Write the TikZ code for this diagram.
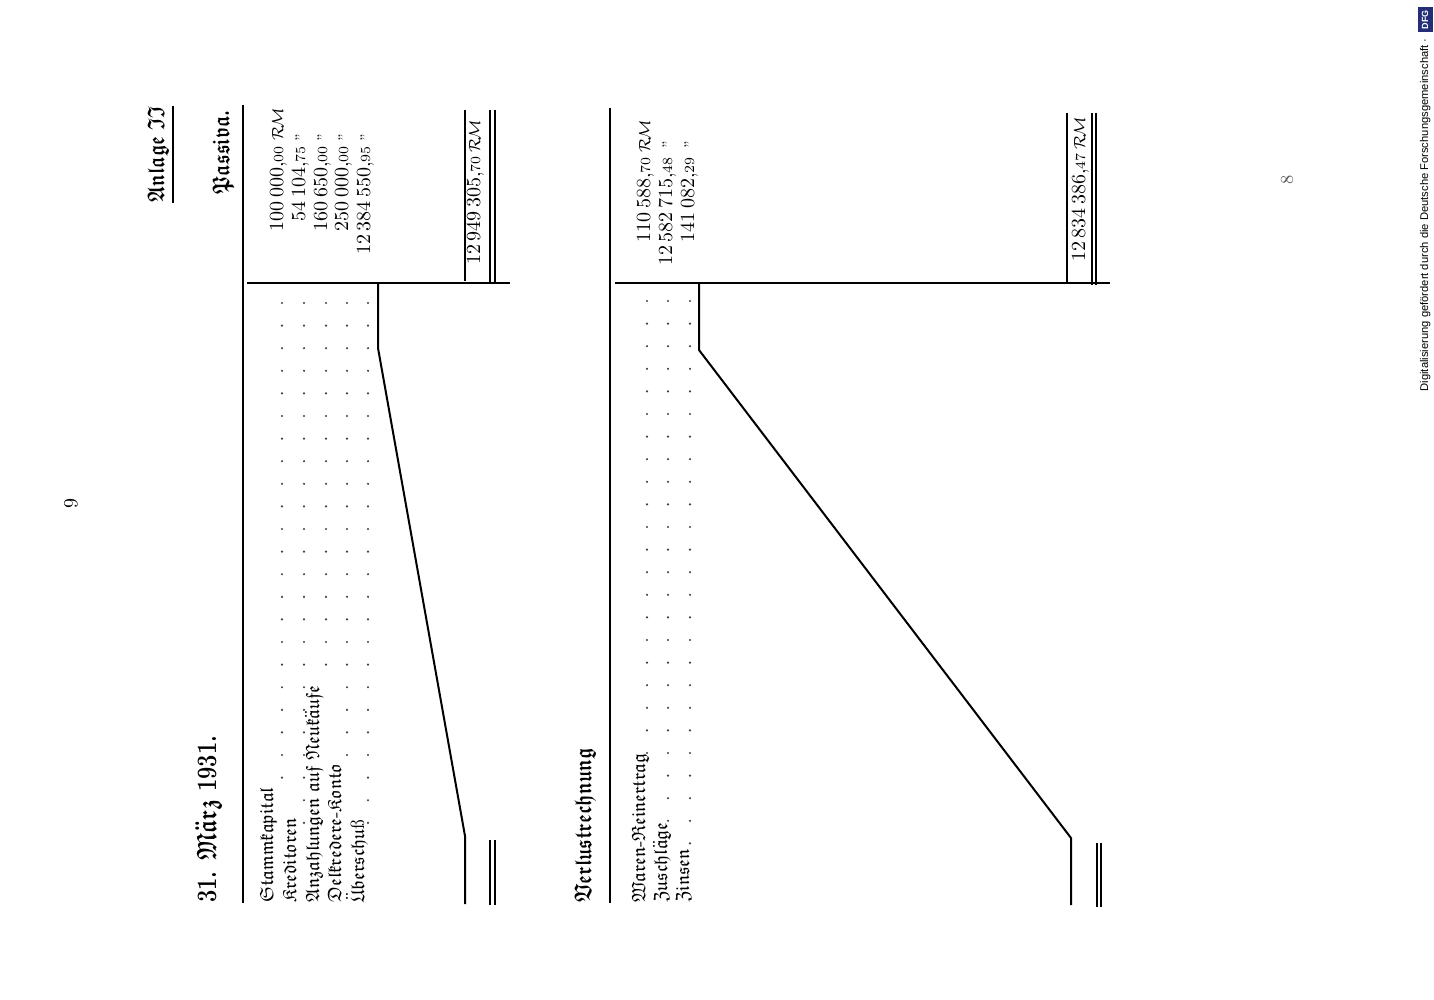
\documentclass[tikz,border=0pt]{standalone}
\usepackage{amsmath, amssymb}
\usepackage{fontspec}
\usetikzlibrary{positioning}
\newfontfamily\dfgfont{Liberation Sans}
\definecolor{dfg-blue}{RGB}{35,45,120}
\tikzstyle{rule}=[line width=1pt]
\tikzstyle{dbl}=[line width=.9pt]
\tikzstyle{posten}=[rotate=90, anchor=base west, inner sep=0pt, font=\fontsize{9.6}{12}\selectfont]
\tikzstyle{betrag}=[rotate=90, anchor=base east, inner sep=0pt, font=\fontsize{10}{12}\selectfont]
\tikzstyle{einheit}=[rotate=90, anchor=base west, inner sep=0pt, font=\fontsize{8}{9}\selectfont]
\tikzstyle{titel}=[rotate=90, inner sep=0pt, font=\fontsize{12}{14}\selectfont\boldmath]
\tikzstyle{punkt}=[fill=black!75]
\newcommand{\fk}[1]{\mathfrak{#1}}
\newcommand{\uml}[1]{\ddot{\mathfrak{#1}}}
\newcommand{\eng}[1]{\scalebox{.78}[1]{#1}}
\newcommand{\pf}[1]{,{\scriptsize #1}}
\newcommand{\RM}{$\mathcal{R}\!\mathcal{M}$}
\newcommand{\dito}{{\scriptsize''}}

\begin{document}
\begin{tikzpicture}[x=.5pt, y=-.5pt]
	\useasboundingbox (0,0) rectangle (1434,1000);
	\node[rotate=90, font=\fontsize{10}{12}\selectfont] (seite) at (71,503) {9};
	\node[rotate=90, font=\fontsize{9}{11}\selectfont, text=black!65] (rueck) at (1287,180) {8};
	% Bilanz
	\node[titel, anchor=base east] (anlage) at (164,106) {\eng{$\fk{Anlage}\ \fk{II}$}};
	\draw[rule] ([xshift=2pt]anlage.south west) -- ([xshift=2pt]anlage.south east);
	\node[titel, anchor=base east] (passiva) at (229,110) {\eng{$\fk{Passiva.}$}};
	\node[rotate=90, anchor=base west, inner sep=0pt, font=\fontsize{14}{16}\selectfont\bfseries\boldmath] (datum) at (216,903) {\eng{31. $\fk{M}\uml{a}\fk{rz}$ 1931.}};
	\draw[rule] (243,105) -- (243,903);
	\node[posten] (p1) at (273,903) {$\fk{Stammkapital}$};
	\node[posten] (p2) at (296,903) {$\fk{Kreditoren}$};
	\node[posten] (p3) at (319,903) {$\fk{Anzahlungen}\ \fk{auf}\ \fk{Neuk}\uml{a}\fk{ufe}$};
	\node[posten] (p4) at (341,903) {$\fk{Delkredere}\mbox{-}\fk{Konto}$};
	\node[posten] (p5) at (364,903) {$\uml{U}\fk{berschu}$\ss};
	\foreach \px/\kmax in {282/21, 304/23, 326/16, 347/20, 368/23}
		\foreach \k in {0,...,\kmax}
			\fill[punkt] (\px,303+22.6*\k) circle (.6pt);
	\foreach \bx/\betr/\n in {283/100\,000\pf{00}/1, 305/54\,104\pf{75}/2, 327/160\,650\pf{00}/3, 348/250\,000\pf{00}/4, 370/12\,384\,550\pf{95}/5}
		\node[betrag] (a\n) at (\bx,146) {\betr};
	\node[einheit] (e1) at ([yshift=2.5pt]a1.base east) {\RM};
	\foreach \n in {2,...,5}
		\node[einheit] (e\n) at ([yshift=2pt]a\n.base east) {\dito};
	\draw[rule] (247,283) -- (510,283);
	\coordinate (nase-o) at (378,283);
	\coordinate (knick-o) at (378,348);
	\coordinate (fuss-o) at (465,836);
	\coordinate (ende-o) at (465,904);
	\draw[rule] (nase-o) -- (knick-o) -- (fuss-o) -- (ende-o);
	\draw[rule] (465,110) -- (465,281);
	\draw[dbl] (490,110) -- (490,283) (495,110) -- (495,283);
	\draw[dbl] (490,840) -- (490,905) (495,840) -- (495,905);
	\node[betrag] (summe-o) at (480,156) {12\,949\,305\pf{70}};
	\node[einheit] (es-o) at ([yshift=1.5pt]summe-o.base east) {\RM};
	% Verlustrechnung
	\node[titel, anchor=base west] (verlust) at (591,903) {\eng{$\fk{Verlustrechnung}$}};
	\draw[rule] (610,108) -- (610,903);
	\node[posten] (q1) at (645,903) {$\fk{Waren}\mbox{-}\fk{Reinertrag}$};
	\node[posten] (q2) at (667,903) {$\fk{Zuschl}\uml{a}\fk{ge}$};
	\node[posten] (q3) at (689,903) {$\fk{Zinsen}$};
	\foreach \px/\kmax in {647/20, 668/23, 690/24}
		\foreach \k in {0,...,\kmax}
			\fill[punkt] (\px,301+22.6*\k) circle (.6pt);
	\foreach \bx/\betr/\n in {650/110\,588\pf{70}/1, 672/12\,582\,715\pf{48}/2, 694/141\,082\pf{29}/3}
		\node[betrag] (b\n) at (\bx,157) {\betr};
	\node[einheit] (f1) at ([yshift=2pt]b1.base east) {\RM};
	\foreach \n in {2,3}
		\node[einheit] (f\n) at ([yshift=4pt]b\n.base east) {\dito};
	\draw[rule] (615,283) -- (1110,283);
	\coordinate (nase-u) at (699,283);
	\coordinate (knick-u) at (699,350);
	\coordinate (fuss-u) at (1071,838);
	\coordinate (ende-u) at (1071,905);
	\draw[rule] (nase-u) -- (knick-u) -- (fuss-u) -- (ende-u);
	\draw[rule] (1067,113) -- (1067,283);
	\draw[dbl] (1092,113) -- (1092,285) (1096,113) -- (1096,285);
	\draw[dbl] (1097,843) -- (1097,907) (1101,843) -- (1101,907);
	\node[betrag] (summe-u) at (1085,153) {12\,834\,386\pf{47}};
	\node[einheit] (es-u) at ([yshift=1.5pt]summe-u.base east) {\RM};
	% DFG
	\node[rotate=90, fill=dfg-blue, text=white, inner sep=0pt, minimum width=12.5pt, minimum height=7.5pt, font=\dfgfont\fontsize{4.5}{5}\selectfont\bfseries] (dfg) at (1425,20) {DFG};
	\node[rotate=90, anchor=base east, inner sep=0pt, font=\dfgfont\fontsize{5.6}{6}\selectfont] (digi) at (1428,38) {Digitalisierung gefördert durch die Deutsche Forschungsgemeinschaft ·};
\end{tikzpicture}
\end{document}
